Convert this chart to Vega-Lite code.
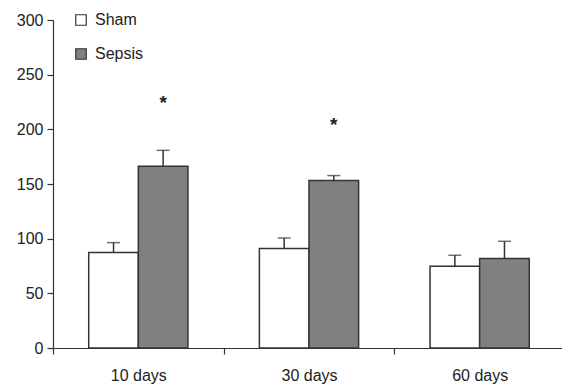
{
  "$schema": "https://vega.github.io/schema/vega-lite/v6.json",
  "autosize": "none",
  "width": 512,
  "height": 328,
  "padding": {"left": 53, "top": 20, "right": 0, "bottom": 40},
  "background": "white",
  "config": {
    "view": {"stroke": null},
    "font": "Liberation Sans",
    "axis": {"grid": false, "domainColor": "#333333", "tickColor": "#333333", "labelColor": "#222222", "labelFont": "Liberation Sans", "labelFontSize": 16, "domainWidth": 1.2, "tickWidth": 1.2},
    "legend": {"labelFont": "Liberation Sans", "labelFontSize": 16, "labelColor": "#222222"}
  },
  "datasets": {
    "bars": [
      {"time": "10 days", "group": "Sham", "value": 87.3, "err": 96.4},
      {"time": "10 days", "group": "Sepsis", "value": 166.2, "err": 180.8},
      {"time": "30 days", "group": "Sham", "value": 90.9, "err": 100.6},
      {"time": "30 days", "group": "Sepsis", "value": 153.1, "err": 157.7},
      {"time": "60 days", "group": "Sham", "value": 74.7, "err": 84.8},
      {"time": "60 days", "group": "Sepsis", "value": 81.8, "err": 97.6}
    ],
    "stars": [
      {"time": "10 days", "group": "Sepsis", "y": 227, "label": "*"},
      {"time": "30 days", "group": "Sepsis", "y": 207, "label": "*"}
    ]
  },
  "encoding": {
    "x": {
      "field": "time", "type": "nominal", "sort": ["10 days", "30 days", "60 days"],
      "scale": {"paddingInner": 0, "paddingOuter": 0},
      "axis": {"title": null, "labelAngle": 0, "tickBand": "extent", "tickSize": 6, "labelPadding": 13}
    },
    "xOffset": {
      "field": "group", "type": "nominal", "sort": ["Sham", "Sepsis"],
      "scale": {"paddingInner": 0, "paddingOuter": 0.72}
    }
  },
  "layer": [
    {
      "data": {"name": "bars"},
      "mark": {"type": "rule", "color": "#333333", "strokeWidth": 1.5},
      "encoding": {
        "y": {"field": "value", "type": "quantitative"},
        "y2": {"field": "err"}
      }
    },
    {
      "data": {"name": "bars"},
      "mark": {"type": "tick", "color": "#333333", "size": 13, "thickness": 1.5, "orient": "horizontal"},
      "encoding": {
        "y": {"field": "err", "type": "quantitative"}
      }
    },
    {
      "data": {"name": "bars"},
      "mark": {"type": "bar", "stroke": "#333333", "strokeWidth": 1.5},
      "encoding": {
        "y": {
          "field": "value", "type": "quantitative",
          "scale": {"domain": [0, 300], "nice": false},
          "axis": {"title": null, "values": [0, 50, 100, 150, 200, 250, 300], "tickSize": 6, "labelPadding": 4}
        },
        "fill": {
          "field": "group", "type": "nominal", "sort": ["Sham", "Sepsis"],
          "scale": {"domain": ["Sham", "Sepsis"], "range": ["#ffffff", "#808080"]},
          "legend": {
            "title": null, "orient": "none", "legendX": 20, "legendY": -8,
            "symbolType": "square", "symbolSize": 110, "symbolStrokeColor": "#333333", "symbolStrokeWidth": 1.2,
            "rowPadding": 18, "labelOffset": 6
          }
        }
      }
    },
    {
      "data": {"name": "stars"},
      "mark": {"type": "text", "fontSize": 19, "fontWeight": "bold", "color": "#222222", "baseline": "middle", "dy": 3},
      "encoding": {
        "y": {"field": "y", "type": "quantitative"},
        "text": {"field": "label"}
      }
    }
  ]
}
